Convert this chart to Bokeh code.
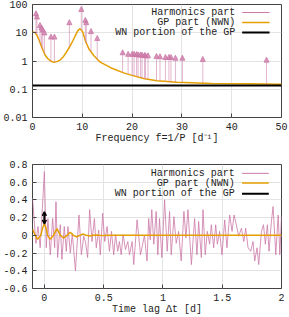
import numpy as np
from bokeh.plotting import figure
from bokeh.layouts import column
from bokeh.models import (ColumnDataSource, Arrow, NormalHead, OpenHead, Span,
                          FixedTicker, CustomJSTickFormatter, Label)
from bokeh.embed import file_html
from bokeh.resources import INLINE

# ---------------- data: top panel (periodogram) ----------------
harm_freq = [0.7, 0.9, 1.5, 1.8, 2.05, 2.4, 3.7, 4.4, 7.4, 9.8, 10.6, 10.8, 11.75, 13.0,
             18.1, 19.2, 20.0, 20.4, 20.9, 21.2, 21.7, 22.0, 22.5, 22.7, 23.2, 24.9,
             25.6, 26.7, 27.4, 27.8, 28.7, 30.1, 34.2, 47.0]
harm_tip = [60, 46, 23, 19, 16, 12.6, 9, 9, 29, 85, 35, 29, 14, 8,
            2.5, 2.2, 2.2, 2.2, 2.15, 2.1, 2.1, 2.05, 2.0, 1.95, 1.95, 1.85,
            1.8, 1.7, 1.7, 1.7, 1.6, 1.6, 1.45, 1.37]
harm_base = [9.6, 8.2, 4.5, 3.3, 2.6, 1.8, 0.98, 0.91, 3.1, 12.6, 5.3, 4.3, 2.1, 1.15,
             0.39, 0.34, 0.31, 0.30, 0.285, 0.275, 0.26, 0.25, 0.235, 0.232, 0.225, 0.2,
             0.196, 0.19, 0.185, 0.183, 0.179, 0.175, 0.165, 0.152]

gp_freq = [0, 0.5, 0.85, 1.2, 1.5, 1.85, 2.2, 2.5, 3.0, 3.5, 4.0, 4.5, 5.0, 5.6, 6.1, 6.6,
           7.1, 7.6, 8.1, 8.6, 9.0, 9.4, 9.7, 10.1, 10.6, 11.3, 12.3, 13.6, 15.7, 18.3,
           20.0, 22.5, 25.0, 29.0, 36.0, 43.0, 50.0]
gp_psd = [10.6, 10.2, 8.4, 6.1, 4.5, 3.1, 2.2, 1.66, 1.25, 1.04, 0.93, 0.91, 0.97, 1.1, 1.35, 1.8,
          2.5, 3.5, 5.2, 7.9, 11.0, 13.6, 13.3, 10.5, 5.3, 2.7, 1.57, 0.91, 0.58, 0.38,
          0.31, 0.235, 0.2, 0.178, 0.16, 0.155, 0.151]
wn_level = 0.135

freq_ticks = [0, 10, 20, 30, 40, 50]
psd_ticks = [0.01, 0.1, 1, 10, 100]

# ---------------- data: bottom panel (autocovariance) ----------------
lag_h = [-0.100, -0.071, -0.054, -0.035, 0.000, 0.016, 0.030, 0.050, 0.070, 0.087, 0.098,
         0.112, 0.134, 0.148, 0.168, 0.185, 0.199, 0.219, 0.236, 0.262, 0.292, 0.312,
         0.332, 0.346, 0.365, 0.382, 0.402, 0.422, 0.438, 0.458, 0.472, 0.492, 0.509,
         0.529, 0.549, 0.566, 0.585, 0.600, 0.619, 0.633, 0.648, 0.664, 0.684, 0.704,
         0.718, 0.740, 0.754, 0.782, 0.811, 0.844, 0.866, 0.880, 0.893, 0.906, 0.923,
         0.943, 0.957, 0.971, 0.991, 1.014, 1.036, 1.056, 1.070, 1.093, 1.112, 1.132,
         1.154, 1.177, 1.194, 1.211, 1.240, 1.267, 1.287, 1.301, 1.324, 1.338, 1.357,
         1.374, 1.394, 1.408, 1.428, 1.445, 1.459, 1.478, 1.498, 1.521, 1.540, 1.563,
         1.583, 1.600, 1.619, 1.639, 1.662, 1.682, 1.698, 1.718, 1.740, 1.760, 1.774,
         1.794, 1.808, 1.831, 1.848, 1.864, 1.881, 1.895, 1.915, 1.929, 1.952, 1.972,
         1.986, 2.000]
acf_h = [0.42, -0.09, 0.10, -0.14, 0.72, -0.14, 0.19, -0.22, 0.19, -0.14, 0.38,
         -0.25, 0.12, -0.27, 0.10, -0.18, 0.10, -0.20, 0.02, -0.40, 0.23, -0.22,
         -0.01, -0.07, -0.25, 0.29, -0.07, 0.19, -0.14, 0.06, -0.22, 0.25, -0.07,
         0.10, -0.18, 0.045, -0.22, 0.01, -0.18, -0.07, -0.22, 0.01, -0.16, -0.07,
         -0.22, -0.07, -0.33, 0.175, -0.22, 0.00, -0.29, 0.19, -0.05, 0.29, -0.10,
         0.27, -0.22, 0.19, -0.25, 0.40, -0.18, 0.27, -0.22, 0.21, -0.09, 0.045,
         -0.29, 0.27, -0.03, 0.29, -0.33, 0.19, -0.22, 0.157, -0.25, 0.29, -0.22,
         0.045, -0.10, 0.12, -0.14, 0.12, -0.10, 0.045, -0.22, 0.175, -0.14, 0.23,
         0.045, 0.23, 0.12, -0.01, 0.08, -0.07, 0.08, -0.14, -0.18, -0.07, -0.29,
         -0.14, -0.33, 0.045, 0.12, -0.10, 0.12, -0.18, 0.157, 0.325, -0.22, 0.23,
         -0.22, 0.21]

lag_gp = [-0.100, -0.080, -0.057, -0.030, -0.015, 0.000, 0.015, 0.027, 0.050, 0.077,
          0.106, 0.135, 0.163, 0.190, 0.219, 0.245, 0.270, 0.298, 0.326, 0.354, 0.382,
          0.410, 0.440, 0.490, 0.550, 0.620, 2.000]
acf_gp = [0.07, 0.01, -0.045, 0.0, 0.08, 0.13, 0.08, 0.0, -0.045, 0.0,
          0.075, 0.0, -0.03, 0.0, 0.035, 0.0, -0.018, 0.0, 0.015, 0.0, -0.008,
          0.0, 0.005, -0.003, 0.002, 0.0, 0.0]

lag_ticks = [0, 0.5, 1, 1.5, 2]
acf_ticks = [-0.6, -0.4, -0.2, 0, 0.2, 0.4, 0.6, 0.8]

legend_labels = ["Harmonics part", "GP part (NWN)", "WN portion of the GP"]

# ---------------- styling ----------------
FONT = "Liberation Mono"
PINK = "#CC79A7"
ORANGE = "#E69F00"
TXT = "#222222"
FMT = CustomJSTickFormatter(code="return (Math.round(tick*1000)/1000).toString();")


def style(p, xticks, yticks):
    p.outline_line_color = "#444444"
    p.outline_line_width = 1
    p.xaxis.ticker = FixedTicker(ticks=xticks)
    p.yaxis.ticker = FixedTicker(ticks=yticks)
    for ax in (p.xaxis[0], p.yaxis[0]):
        ax.formatter = FMT
        ax.major_label_text_font = FONT
        ax.major_label_text_font_size = "10px"
        ax.major_label_text_color = TXT
        ax.axis_label_text_font = FONT
        ax.axis_label_text_font_size = "10px"
        ax.axis_label_text_font_style = "normal"
        ax.axis_label_text_color = TXT
        ax.axis_line_color = None
        ax.major_tick_in = 4
        ax.major_tick_out = 0
        ax.minor_tick_in = 0
        ax.minor_tick_out = 0
        ax.major_tick_line_color = "#444444"
        ax.major_label_standoff = 5
    p.xaxis[0].axis_label_standoff = 0
    p.grid.grid_line_color = "#e3e3e3"
    p.grid.grid_line_width = 1


def legend(p, xt, x0, x1, ys, colors, widths):
    for lab, y, c, w in zip(legend_labels, ys, colors, widths):
        p.add_layout(Label(x=xt, y=y, text=lab, text_align="right", text_baseline="middle",
                           text_font=FONT, text_font_size="10px", text_color=TXT))
        p.line([x0, x1], [y, y], line_color=c, line_width=w)


# ---------------- top panel ----------------
p1 = figure(width=289, height=150, x_range=(0, 50), y_range=(0.01, 100),
            y_axis_type="log", title=None,
            output_backend="svg", toolbar_location=None,
            min_border_left=32, min_border_right=8, min_border_top=4, min_border_bottom=33)
p1.xaxis.axis_label = "Frequency f=1/P [d\u207b\u00b9]"
style(p1, freq_ticks, psd_ticks)

p1.add_layout(Span(location=wn_level, dimension="width", line_color="black", line_width=2))
p1.line(gp_freq, gp_psd, line_color=ORANGE, line_width=1.5)
hsrc = ColumnDataSource(dict(f=harm_freq, base=harm_base, tip=harm_tip))
p1.add_layout(Arrow(x_start="f", y_start="base", x_end="f", y_end="tip", source=hsrc,
                    line_color=PINK, line_alpha=0.55, line_width=1,
                    end=NormalHead(size=5, fill_color=PINK, line_color=PINK,
                                   fill_alpha=0.8, line_alpha=0.8)))
legend(p1, 40.7, 42.1, 47.6, [52, 23, 10.2], [PINK, ORANGE, "black"], [1, 1.5, 2])

# ---------------- bottom panel ----------------
p2 = figure(width=289, height=167, x_range=(-0.1, 2), y_range=(-0.6, 0.8),
            title=None,
            output_backend="svg", toolbar_location=None,
            min_border_left=32, min_border_right=8, min_border_top=14, min_border_bottom=28)
p2.xaxis.axis_label = "Time lag \u0394t [d]"
style(p2, lag_ticks, acf_ticks)

p2.line(lag_h, acf_h, line_color=PINK, line_width=1, line_alpha=0.8)
p2.line(lag_gp, acf_gp, line_color=ORANGE, line_width=1.5)
i0 = int(np.argmax(acf_gp))
p2.add_layout(Arrow(x_start=lag_gp[i0], y_start=acf_gp[i0], x_end=lag_gp[i0],
                    y_end=acf_gp[i0] + wn_level, line_color="black", line_width=2,
                    start=OpenHead(size=4, line_width=1.5, line_color="black"),
                    end=OpenHead(size=4, line_width=1.5, line_color="black")))
legend(p2, 1.605, 1.667, 1.893, [0.70, 0.59, 0.47], [PINK, ORANGE, "black"], [1, 1.5, 2])

layout = column(p1, p2)
open("out.html", "w").write(file_html(layout, INLINE))
